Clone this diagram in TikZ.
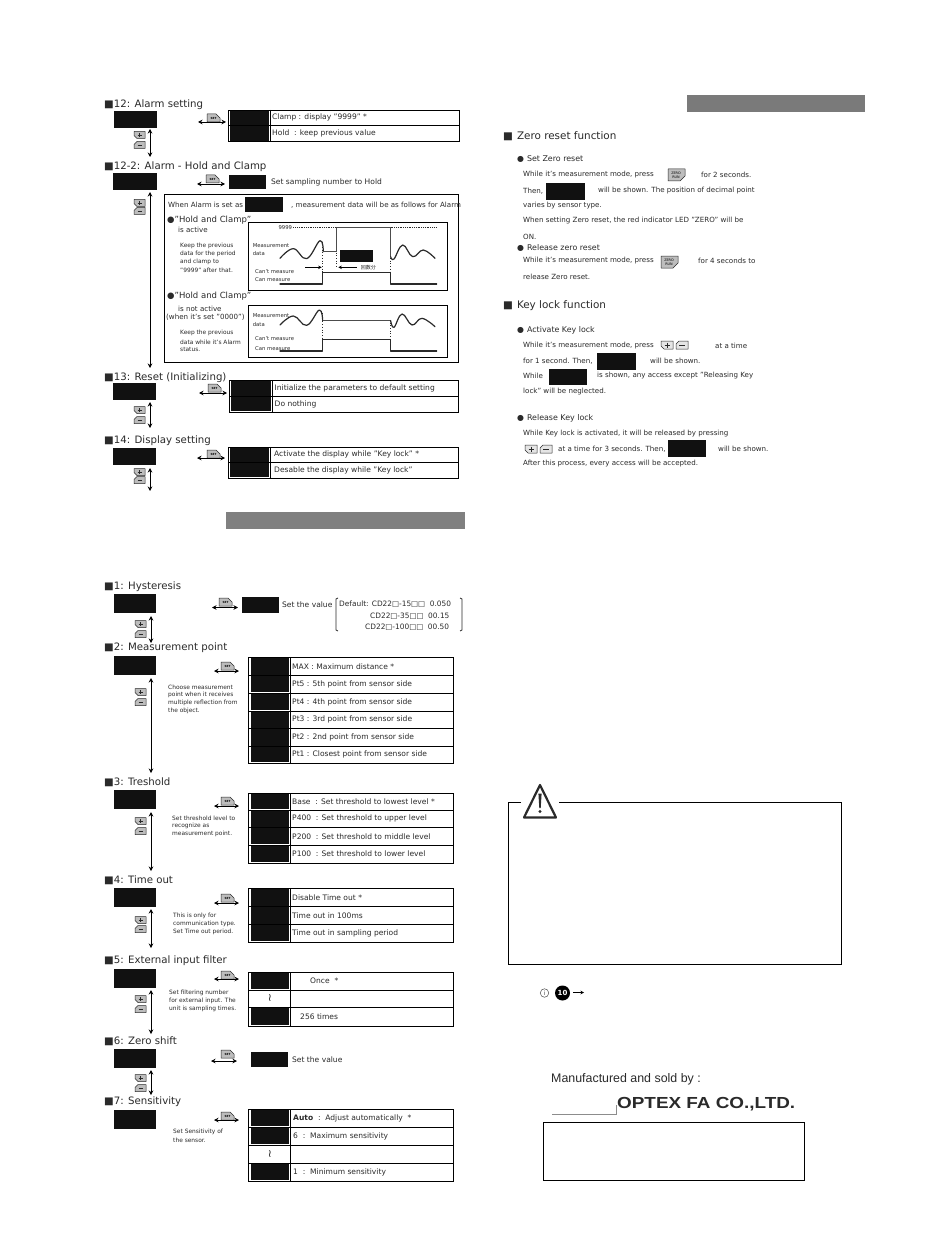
\documentclass[tikz,border=0pt]{standalone}
\usepackage{fontspec}
\setmainfont{DejaVu Sans}
\newfontfamily\cjkf{Noto Sans CJK JP}
\newfontfamily\lib{Liberation Sans}
\usetikzlibrary{arrows.meta,calc}
\definecolor{ink}{HTML}{2A2A2A}
\definecolor{blk}{HTML}{111111}
\definecolor{btn}{HTML}{BDBDBD}
\tikzset{
  lab/.style={anchor=west,inner sep=0pt,text=ink,font=\fontsize{7.55}{8}\selectfont},
  dflt/.style={anchor=west,inner sep=0pt,text=ink,font=\fontsize{7.4}{8}\selectfont},
  head/.style={anchor=west,inner sep=0pt,text=ink,font=\fontsize{10.2}{11}\selectfont},
  bighead/.style={anchor=west,inner sep=0pt,text=ink,font=\fontsize{10.4}{12}\selectfont},
  body/.style={anchor=west,inner sep=0pt,text=ink,font=\fontsize{7.1}{8}\selectfont},
  subh/.style={anchor=west,inner sep=0pt,text=ink,font=\fontsize{7.9}{9}\selectfont},
  holdh/.style={anchor=west,inner sep=0pt,text=ink,font=\fontsize{8.5}{9}\selectfont},
  tiny/.style={anchor=west,inner sep=0pt,text=ink,font=\fontsize{5.9}{7}\selectfont},
  chartl/.style={anchor=west,inner sep=0pt,text=ink,font=\fontsize{5.3}{7}\selectfont},
  dbl/.style={{Stealth[length=4.5pt,width=4.5pt]}-{Stealth[length=4.5pt,width=4.5pt]},line width=0.9pt,draw=black},
  sgl/.style={-{Stealth[length=3.5pt,width=3.5pt]},line width=0.7pt,draw=black},
  blackcell/.style={fill=blk,draw=none,inner sep=0pt,outer sep=0pt},
  rowline/.style={draw=black,line width=0.9pt},
  btnline/.style={draw=ink,fill=btn,line width=0.5pt,line join=round},
  wave/.style={draw=ink,line width=1.2pt,line cap=round,line join=round},
  hold/.style={draw=black!70,line width=1.2pt,line join=miter},
  guide/.style={draw=ink,line width=0.7pt,dotted},
}
\newcounter{nn}
\def\insetL{1.5}
% black rectangle as a named node
\newcommand{\Blk}[5]{\node[blackcell,minimum width={((#4)-(#2))*1pt},minimum height={((#5)-(#3))*1pt}] (#1) at ({((#2)+(#4))/2},{((#3)+(#5))/2}) {};}
\newcommand{\Tx}[4][lab]{\stepcounter{nn}\node[#1] (t\arabic{nn}) at (#2,#3) {#4};}
% table row: xl, xv, xr, yt, yb, text
\newcommand{\Row}[6]{\stepcounter{nn}\draw[rowline] (#1,#4) rectangle (#3,#5);\draw[rowline] (#2,#4) -- (#2,#5);
  \node[lab] (r\arabic{nn}) at (#2+2,{(#4+#5)/2}) {#6};}
\newcommand{\Cell}[4]{\stepcounter{nn}\Blk{c\arabic{nn}}{#1}{#3+0.8}{#2-1.5}{#4-0.8}}
\newcommand{\RowB}[6]{\Row{#1}{#2}{#3}{#4}{#5}{#6}\Cell{#1+\insetL}{#2}{#4}{#5}}
\newcommand{\VA}[4]{\coordinate (#1a) at (#2,#3);\coordinate (#1b) at (#2,#4);\draw[dbl] (#1a) -- (#1b);}
\newcommand{\HA}[4]{\coordinate (#1a) at (#2,#4);\coordinate (#1b) at (#3,#4);\draw[dbl] (#1a) -- (#1b);}
% SET key: left, top
\newcommand{\SetK}[2]{\begin{scope}[shift={(#1,#2)}]\draw[btnline] (0,8) -- (0,0) -- (9,0) -- (13,4) -- (13,8) -- cycle;\stepcounter{nn}\node[inner sep=0pt,text=black,font=\fontsize{2.8}{3}\selectfont\bfseries] (k\arabic{nn}) at (6.5,4.6) {SET};\end{scope}}
% plus / minus keys: left, centre y of each
\newcommand{\PM}[3]{\begin{scope}[shift={(#1,#2)}]\draw[btnline] (0,-3.5) -- (11,-3.5) -- (11,3.5) -- (3,3.5) -- (0,0.5) -- cycle;\draw[ink,line width=0.6pt] (3.5,0) -- (7.5,0) (5.5,-2) -- (5.5,2);\end{scope}
 \begin{scope}[shift={(#1,#3)}]\draw[btnline] (0,3.5) -- (0,-0.5) -- (3,-3.5) -- (11,-3.5) -- (11,3.5) -- cycle;\draw[ink,line width=0.6pt] (3.5,0) -- (7.5,0);\end{scope}}
\newcommand{\PMh}[2]{\begin{scope}[shift={(#1,#2)}]\draw[btnline,fill=btn!40] (0,-4) -- (12,-4) -- (12,4) -- (3,4) -- (0,1) -- cycle;\draw[ink,line width=0.6pt] (3.5,0) -- (8.5,0) (6,-2.5) -- (6,2.5);\end{scope}
 \begin{scope}[shift={(#1+15,#2)}]\draw[btnline,fill=btn!40] (0,4) -- (0,-1) -- (3,-4) -- (12,-4) -- (12,4) -- cycle;\draw[ink,line width=0.6pt] (3,0) -- (8.5,0);\end{scope}}
\newcommand{\ZeroK}[2]{\begin{scope}[shift={(#1,#2)}]\draw[btnline] (0,0) -- (17,0) -- (17,7) -- (12,12) -- (0,12) -- cycle;\stepcounter{nn}\node[inner sep=0pt,align=center,text=black,font=\fontsize{3.4}{3.8}\selectfont] (z\arabic{nn}) at (8,6) {ZERO\\RUN};\end{scope}}
\begin{document}
\begin{tikzpicture}[x=1pt,y=-1pt]
\useasboundingbox (0,0) rectangle (950,1241);
\fill[white] (0,0) rectangle (950,1241);

% ---------- 12
\Tx[head]{104}{105}{■12: Alarm setting}
\Blk{m12}{114}{111}{157}{128}
\VA{v12}{150}{129}{157}
\PM{134}{135}{145}
\SetK{207}{114}
\HA{h12}{198}{226}{122}
\RowB{228}{270}{459}{110}{125.5}{Clamp : display "9999" *}
\RowB{228}{270}{459}{125.5}{141.5}{Hold\ \ : keep previous value}

% ---------- 12-2
\Tx[head]{104}{167}{■12-2: Alarm - Hold and Clamp}
\Blk{m122}{113}{173}{157}{190}
\VA{v122}{150}{192}{368}
\PM{134}{203}{211}
\SetK{206}{175}
\HA{h122}{197}{225}{184}
\Blk{s122}{229}{175}{266}{189}
\Tx{271}{182}{Set sampling number to Hold}
\draw[rowline] (164,194) rectangle (458.5,362);
\Tx[body]{168}{205}{When Alarm is set as}
\Blk{a122}{245}{197}{283}{212}
\Tx[body]{291}{205}{, measurement data will be as follows for Alarm}
\Tx[holdh]{167}{220}{●"Hold and Clamp"}
\Tx[body]{178}{230}{is active}
\Tx[tiny]{180}{246}{Keep the previous}
\Tx[tiny]{180}{254}{data for the period}
\Tx[tiny]{180}{262}{and clamp to}
\Tx[tiny]{180}{270}{"9999" after that.}
\Tx[holdh]{167}{296}{●"Hold and Clamp"}
\Tx[body]{178}{309}{is not active}
\Tx[body]{166}{317.5}{(when it's set "0000")}
\Tx[tiny]{180}{333}{Keep the previous}
\Tx[tiny]{180}{342}{data while it's Alarm}
\Tx[tiny]{180}{349}{status.}
\draw[rowline] (248,222) rectangle (447,290);
\draw[rowline] (248,305) rectangle (447,357);
\Blk{b122}{340}{250}{373}{262}
\begin{scope}[shift={(90,90)},x=0.33333pt,y=-0.33333pt]
  \Tx[chartl]{565}{412}{9999}
  \draw[draw=ink,line width=0.8pt,densely dotted] (610,413) -- (1040,413);
  \Tx[chartl]{488}{466}{Measurement}
  \Tx[chartl]{488}{492}{data}
  \Tx[chartl]{495}{544}{Can't measure}
  \Tx[chartl]{495}{570}{Can measure}
  \draw[guide] (698,455) -- (698,582) (740,415) -- (740,535) (902,415) -- (902,582);
  \draw[wave] plot[smooth,tension=0.7] coordinates {(570,505) (610,476) (650,506) (690,452) (700,485)};
  \draw[hold] (700,485) -- (740,485) -- (740,413) -- (902,413) -- (902,500);
  \draw[wave] plot[smooth,tension=0.7] coordinates {(902,500) (912,507) (938,465) (968,500) (1000,480) (1035,505)};
  \draw[wave] (570,582) -- (698,582) -- (698,548) -- (902,548) -- (902,582) -- (1040,582);
  \coordinate (ga) at (645,532); \coordinate (gb) at (695,532);
  \coordinate (gc) at (800,532); \coordinate (gd) at (745,532);
  \draw[sgl] (ga) -- (gb);
  \draw[sgl] (gc) -- (gd);
  \node[anchor=west,inner sep=0pt,text=ink,font=\cjkf\fontsize{5}{6}\selectfont] (jp) at (812,532) {回数分};
  % lower chart
  \Tx[chartl]{488}{678}{Measurement}
  \Tx[chartl]{488}{705}{data}
  \Tx[chartl]{495}{746}{Can't measure}
  \Tx[chartl]{495}{775}{Can measure}
  \draw[guide] (698,670) -- (698,783) (902,690) -- (902,783);
  \draw[wave] plot[smooth,tension=0.7] coordinates {(570,705) (610,678) (650,706) (688,660) (698,692)};
  \draw[hold] (698,692) -- (902,692);
  \draw[wave] plot[smooth,tension=0.7] coordinates {(902,692) (912,712) (936,672) (966,705) (996,685) (1035,710)};
  \draw[wave] (570,783) -- (698,783) -- (698,748) -- (902,748) -- (902,783) -- (1040,783);
\end{scope}

% ---------- 13
\Tx[head]{104}{378}{■13: Reset (Initializing)}
\Blk{m13}{113}{383}{156}{400}
\VA{v13}{150}{402}{428}
\PM{134}{410}{420}
\SetK{208}{384}
\HA{h13}{199}{227}{393}
\RowB{229}{272.5}{458}{380}{396.5}{Initialize the parameters to default setting}
\RowB{229}{272.5}{458}{396.5}{412}{Do nothing}

% ---------- 14
\Tx[head]{104}{441}{■14: Display setting}
\Blk{m14}{113}{448}{156}{465}
\VA{v14}{150}{468}{491}
\PM{134}{472}{480}
\SetK{207}{450}
\HA{h14}{197}{225}{458}
\RowB{228}{270}{458}{447}{462.5}{\kern2pt Activate the display while "Key lock" *}
\RowB{228}{270}{458}{462.5}{478}{\kern2pt Desable the display while "Key lock"}

\fill[black!50] (226,512) rectangle (465,529);

% ---------- 1
\Tx[head]{104}{587}{■1: Hysteresis}
\Blk{m1}{114}{594}{156}{613}
\VA{v1}{151}{616}{643}
\PM{135}{624}{634}
\SetK{219}{598}
\HA{h1}{212}{238}{607.5}
\Blk{s1}{242}{597}{279}{613}
\Tx{282}{605}{Set the value}
\draw[line width=0.8pt,draw=ink] (338,598) -- (336,599) -- (336,630) -- (338,631) (460,598) -- (462,599) -- (462,630) -- (460,631);
\Tx[dflt]{339}{604}{Default: CD22□-15□□\ \ 0.050}
\Tx[dflt]{370}{616}{CD22□-35□□\ \ 00.15}
\Tx[dflt]{365}{627}{CD22□-100□□\ \ 00.50}

\def\insetL{3}
% ---------- 2
\Tx[head]{104}{648}{■2: Measurement point}
\Blk{m2}{114}{656}{156}{675}
\VA{v2}{151}{678}{773}
\PM{135}{692}{702}
\SetK{221}{662}
\HA{h2}{214}{239}{671}
\Tx[tiny]{168}{687}{Choose measurement}
\Tx[tiny]{168}{695}{point when it receives}
\Tx[tiny]{168}{703}{multiple reflection from}
\Tx[tiny]{168}{711}{the object.}
\RowB{248}{290}{453.5}{657}{675.5}{MAX : Maximum distance *}
\RowB{248}{290}{453.5}{675.5}{693}{Pt5 : 5th point from sensor side}
\RowB{248}{290}{453.5}{693}{711}{Pt4 : 4th point from sensor side}
\RowB{248}{290}{453.5}{711}{728.5}{Pt3 : 3rd point from sensor side}
\RowB{248}{290}{453.5}{728.5}{746.5}{Pt2 : 2nd point from sensor side}
\RowB{248}{290}{453.5}{746.5}{763}{Pt1 : Closest point from sensor side}

% ---------- 3
\Tx[head]{104}{782}{■3: Treshold}
\Blk{m3}{114}{790}{156}{809}
\VA{v3}{151}{812}{871}
\PM{135}{821}{831}
\SetK{221}{797}
\HA{h3}{214}{239}{806}
\Tx[tiny]{172}{818}{Set threshold level to}
\Tx[tiny]{172}{826}{recognize as}
\Tx[tiny]{172}{834}{measurement point.}
\RowB{248}{290}{453.5}{793}{810}{Base\ \ : Set threshold to lowest level *}
\RowB{248}{290}{453.5}{810}{827.5}{P400\ \ : Set threshold to upper level}
\RowB{248}{290}{453.5}{827.5}{845}{P200\ \ : Set threshold to middle level}
\RowB{248}{290}{453.5}{845}{863}{P100\ \ : Set threshold to lower level}

% ---------- 4
\Tx[head]{104}{880}{■4: Time out}
\Blk{m4}{114}{888}{156}{907}
\VA{v4}{151}{909}{948}
\PM{135}{920}{929}
\SetK{221}{894}
\HA{h4}{214}{239}{903}
\Tx[tiny]{173}{916}{This is only for}
\Tx[tiny]{173}{924}{communication type.}
\Tx[tiny]{173}{932}{Set Time out period.}
\RowB{248}{290}{453.5}{888}{906.5}{Disable Time out *}
\RowB{248}{290}{453.5}{906.5}{924.5}{Time out in 100ms}
\RowB{248}{290}{453.5}{924.5}{942}{Time out in sampling period}

% ---------- 5
\Tx[head]{104}{961}{■5: External input filter}
\Blk{m5}{114}{969}{156}{988}
\VA{v5}{151}{990}{1034}
\PM{135}{999}{1009}
\SetK{221}{971}
\HA{h5}{214}{239}{979}
\Tx[tiny]{169}{993}{Set filtering number}
\Tx[tiny]{169}{1001}{for external input. The}
\Tx[tiny]{169}{1009}{unit is sampling times.}
\RowB{248}{290}{453.5}{972}{990}{\kern18pt Once\ \ *}
\Row{248}{290}{453.5}{990}{1007}{}
\node[inner sep=0pt,text=ink,font=\fontsize{11}{12}\selectfont] (w5) at (270,998.5) {≀};
\RowB{248}{290}{453.5}{1007}{1026}{\kern8pt 256 times}

% ---------- 6
\Tx[head]{104}{1041}{■6: Zero shift}
\Blk{m6}{114}{1049}{156}{1068}
\VA{v6}{151}{1070}{1095}
\PM{135}{1078}{1088}
\SetK{221}{1050}
\HA{h6}{211}{237}{1061}
\Blk{s6}{251}{1052}{288}{1067}
\Tx{292}{1060}{Set the value}

% ---------- 7
\Tx[head]{104}{1102}{■7: Sensitivity}
\Blk{m7}{114}{1110}{156}{1129}
\SetK{221}{1112}
\HA{h7}{214}{239}{1120}
\Tx[tiny]{173}{1132}{Set Sensitivity of}
\Tx[tiny]{173}{1140}{the sensor.}
\RowB{248}{290}{453.5}{1109}{1127}{\kern1pt\textbf{Auto}\ \ :\ \ Adjust automatically\ \ *}
\RowB{248}{290}{453.5}{1127}{1145}{\kern1pt 6\ \ :\ \ Maximum sensitivity}
\Row{248}{290}{453.5}{1145}{1163}{}
\node[inner sep=0pt,text=ink,font=\fontsize{11}{12}\selectfont] (w7) at (270,1154) {≀};
\RowB{248}{290}{453.5}{1163}{1181}{\kern1pt 1\ \ :\ \ Minimum sensitivity}

% ---------- right column
\fill[black!52] (687,95) rectangle (865,112);
\Tx[bighead]{503}{136}{■\kern4pt Zero reset function}
\Tx[subh]{517}{159}{●\kern3pt Set Zero reset}
\Tx[body]{523}{175}{While it's measurement mode, press}
\ZeroK{668}{169}
\Tx[body]{701}{175}{for 2 seconds.}
\Tx[body]{523}{191}{Then,}
\Blk{z1}{546}{183}{585}{200}
\Tx[body]{598}{191}{will be shown. The position of decimal point}
\Tx[body]{523}{206}{varies by sensor type.}
\Tx[body]{523}{221}{When setting Zero reset, the red indicator LED "ZERO" will be}
\Tx[body]{523}{237}{ON.}
\Tx[subh]{517}{248}{●\kern3pt Release zero reset}
\Tx[body]{523}{261}{While it's measurement mode, press}
\ZeroK{661}{256}
\Tx[body]{698}{261}{for 4 seconds to}
\Tx[body]{523}{277}{release Zero reset.}

\Tx[bighead]{503}{306}{■\kern4pt Key lock function}
\Tx[subh]{517}{330}{●\kern3pt Activate Key lock}
\Tx[body]{523}{346}{While it's measurement mode, press}
\PMh{661}{345}
\Tx[body]{715}{346}{at a time}
\Tx[body]{523}{361}{for 1 second. Then,}
\Blk{k1}{597}{353}{636}{370}
\Tx[body]{650}{361}{will be shown.}
\Tx[body]{523}{376}{While}
\Blk{k2}{549}{369}{587}{385}
\Tx[body]{597}{376}{is shown, any access except "Releasing Key}
\Tx[body]{523}{392}{lock" will be neglected.}
\Tx[subh]{517}{418}{●\kern3pt Release Key lock}
\Tx[body]{523}{434}{While Key lock is activated, it will be released by pressing}
\PMh{525}{449}
\Tx[body]{558}{449}{at a time for 3 seconds. Then,}
\Blk{k3}{668}{440}{706}{457}
\Tx[body]{718}{449}{will be shown.}
\Tx[body]{523}{464}{After this process, every access will be accepted.}

% warning frame
\draw[line width=0.9pt,draw=black] (521,802) -- (508,802) -- (508,964) -- (841.5,964) -- (841.5,802) -- (559,802);
\draw[line width=2.2pt,draw=ink,line join=round] (540,785) -- (556,817.5) -- (524,817.5) -- cycle;
\fill[ink] (538.4,793.5) -- (541.6,793.5) -- (540.7,808) -- (539.3,808) -- cycle;
\fill[ink] (540,811.5) circle (1.6);

% notes
\node[circle,draw=black!70,line width=0.5pt,inner sep=0pt,minimum size=8.5pt,text=black!70,font=\fontsize{6}{7}\selectfont] (info) at (544.5,993) {i};
\node[circle,fill=black,text=white,inner sep=0pt,minimum size=15pt,font=\fontsize{7}{8}\selectfont\bfseries] (ten) at (562.5,993) {10};
\coordinate (tenr) at (584,992.5);
\draw[sgl] (ten.east) ++(3,-0.5) -- (tenr);

% maker
\node[anchor=west,inner sep=0pt,text=ink,font=\lib\fontsize{12.4}{14}\selectfont] (maker) at (551,1079) {Manufactured and sold by :};
\node[anchor=west,inner sep=0pt,text=ink,font=\lib\bfseries\fontsize{16}{18}\selectfont] (optex) at (617,1104) {\scalebox{1.18}[1]{OPTEX FA CO.,LTD.}};
\draw[draw=black!45,line width=0.4pt] (552,1114) -- (616,1114) -- (616,1105);
\draw[line width=0.9pt,draw=black] (543,1122) rectangle (804.5,1180);
\end{tikzpicture}
\end{document}
